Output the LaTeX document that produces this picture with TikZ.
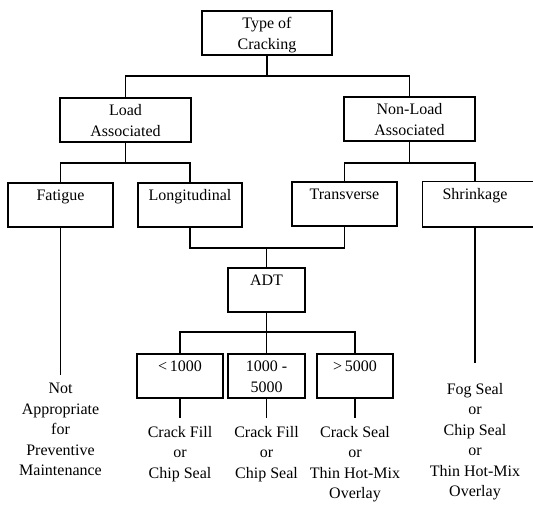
\documentclass[tikz,border=0pt]{standalone}
\usepackage{fontspec}
\setmainfont{Liberation Serif}
\newcommand{\boxtxt}[2]{\rule{0pt}{15pt}#1\\#2\rule[-4pt]{0pt}{4pt}}
\begin{document}
\begin{tikzpicture}[x=1pt,y=-1pt,
  box/.style={draw, line width=1.5pt, minimum height=44pt, inner sep=0pt, align=center,
    font=\fontsize{16}{21}\selectfont},
  conn/.style={line width=1.3pt},
  note/.style={anchor=north, inner sep=0pt, align=center,
    font=\fontsize{16}{20.5}\selectfont}]
\useasboundingbox (0,0) rectangle (533,506);
\fill[white] (0,0) rectangle (533,506);

% boxes
\node[box, minimum width=130pt] (type) at (267,33) {\boxtxt{Type of}{Cracking}};
\node[box, minimum width=131pt] (load) at (125.5,120) {\boxtxt{Load}{Associated}};
\node[box, minimum width=131pt] (nonload) at (409.5,119) {\boxtxt{Non-Load}{Associated}};
\node[box, minimum width=105pt] (fatigue) at (60.5,205) {\boxtxt{Fatigue}{}};
\node[box, minimum width=104pt] (longit) at (190,205) {\boxtxt{Longitudinal}{}};
\node[box, minimum width=105pt] (transverse) at (344.5,204) {\boxtxt{Transverse}{}};
\node[box, draw=none, minimum width=104pt] (shrinkage) at (475,204) {\boxtxt{Shrinkage}{}};
\draw[line width=1.5pt] ([xshift=80pt]shrinkage.north east) -- (shrinkage.north west)
  -- (shrinkage.south west) -- ([xshift=80pt]shrinkage.south east);
\node[box, minimum width=77pt] (adt) at (266.5,290) {\boxtxt{ADT}{}};
\node[box, minimum width=86pt] (lt) at (180,376) {\boxtxt{<\,1000}{}};
\node[box, minimum width=77pt] (mid) at (266.5,376) {\boxtxt{1000 -}{5000}};
\node[box, minimum width=76pt] (gt) at (355,376) {\boxtxt{>\,5000}{}};

% bottom texts
\node[note] (tfat) at (60.5,383) {Not\\Appropriate\\for\\Preventive\\Maintenance};
\node[note] (tlt) at (180,426) {Crack Fill\\or\\Chip Seal};
\node[note] (tmid) at (266.5,426) {Crack Fill\\or\\Chip Seal};
\node[note] (tgt) at (355,426) {Crack Seal\\or\\Thin Hot-Mix\\Overlay};
\node[note] (tshr) at (475,383) {Fog Seal\\or\\Chip Seal\\or\\Thin Hot-Mix\\Overlay};

% junction coordinates
\coordinate (j1) at (267,76);
\coordinate (j2) at (125.5,163);
\coordinate (j3) at (409.5,163);
\coordinate (j4) at (266.5,248);
\coordinate (j5) at (266.5,332);

% connectors
\draw[conn] (type.south) -- (j1);
\draw[conn] (load.north) |- (j1) -| (nonload.north);
\draw[conn] (load.south) -- (j2);
\draw[conn] (fatigue.north) |- (j2) -| (longit.north);
\draw[conn] (nonload.south) -- (j3);
\draw[conn] (transverse.north) |- (j3) -| (shrinkage.north);
\draw[conn] (longit.south) |- (j4) -| (transverse.south);
\draw[conn] (j4) -- (adt.north);
\draw[conn] (adt.south) -- (j5);
\draw[conn] (lt.north) |- (j5) -| (gt.north);
\draw[conn] (j5) -- (mid.north);

\draw[conn, shorten >=8pt] (fatigue.south) -- (tfat.north);
\draw[conn, shorten >=8pt] (lt.south) -- (tlt.north);
\draw[conn, shorten >=8pt] (mid.south) -- (tmid.north);
\draw[conn, shorten >=8pt] (gt.south) -- (tgt.north);
\draw[conn, shorten >=20pt] (shrinkage.south) -- (tshr.north);
\end{tikzpicture}
\end{document}
